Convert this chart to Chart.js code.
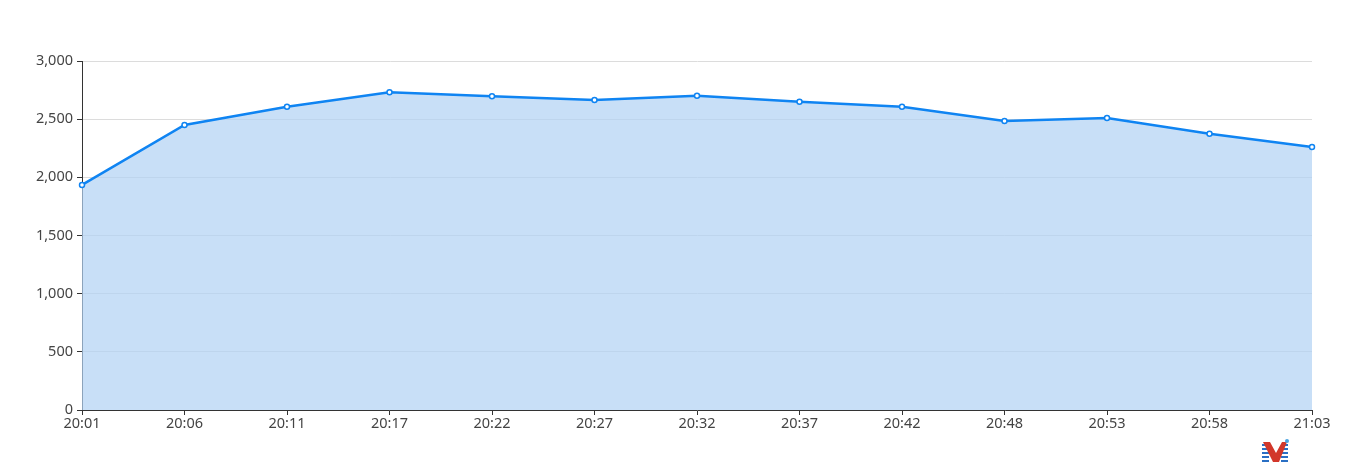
<!DOCTYPE html>
<html>
<head>
<meta charset="utf-8">
<script src="https://cdn.jsdelivr.net/npm/chart.js@4"></script>
<style>
  html, body { margin: 0; padding: 0; background: #fff; }
  #wrap { width: 1353px; height: 467px; position: relative; }
</style>
</head>
<body>
<div id="wrap"><canvas id="chart"></canvas></div>
<script>
const times = ['20:01', '20:06', '20:11', '20:17', '20:22', '20:27', '20:32',
  '20:37', '20:42', '20:48', '20:53', '20:58', '21:03'];
const values = [1935, 2450, 2607, 2731, 2697, 2665, 2702, 2650, 2607, 2484, 2510, 2375, 2261];
const yTicks = [0, 500, 1000, 1500, 2000, 2500, 3000];

// small watermark logo in the bottom right corner
const logoPlugin = {
  id: 'logo',
  afterDraw(chart) {
    const ctx = chart.ctx;
    const x = 1262, y = 440;
    ctx.save();
    ctx.fillStyle = '#2a6fc4';
    for (let i = 0; i < 5; i++) {
      ctx.fillRect(x, y + 4 + i * 4, 7, 2);
      ctx.fillRect(x + 19, y + 4 + i * 4, 7, 2);
    }
    ctx.fillStyle = '#d2372a';
    ctx.beginPath();
    ctx.moveTo(x + 1, y + 2);
    ctx.lineTo(x + 8, y + 2);
    ctx.lineTo(x + 14, y + 13);
    ctx.lineTo(x + 20, y + 2);
    ctx.lineTo(x + 25, y + 2);
    ctx.lineTo(x + 17, y + 22);
    ctx.lineTo(x + 11, y + 22);
    ctx.closePath();
    ctx.fill();
    ctx.fillStyle = '#4aa3e0';
    ctx.beginPath();
    ctx.arc(x + 25, y + 1, 2, 0, Math.PI * 2);
    ctx.fill();
    ctx.restore();
  }
};

new Chart(document.getElementById('chart').getContext('2d'), {
  type: 'line',
  data: {
    labels: times,
    datasets: [
      {
        data: values,
        borderColor: '#0f84f2',
        borderWidth: 2.5,
        backgroundColor: 'rgba(178, 210, 244, 0.71)',
        fill: 'origin',
        tension: 0,
        pointRadius: 2.5,
        pointHoverRadius: 3,
        pointBorderWidth: 1.5,
        pointBackgroundColor: '#fff',
        pointBorderColor: '#0f84f2',
      },
    ],
  },
  options: {
    responsive: true,
    maintainAspectRatio: false,
    animation: false,
    layout: { padding: { top: 61, right: 41, left: 0, bottom: 0 } },
    plugins: {
      legend: { display: false },
      tooltip: { enabled: false },
    },
    scales: {
      x: {
        offset: false,
        afterFit: (scale) => { scale.height = 57; },
        grid: {
          drawOnChartArea: false,
          tickLength: 5,
          tickColor: '#333',
        },
        border: { color: '#333', width: 1 },
        ticks: {
          color: '#444',
          font: { family: 'Noto Sans', size: 14.5 },
          padding: 0,
          maxRotation: 0,
          autoSkip: false,
        },
      },
      y: {
        min: 0,
        max: 3000,
        afterFit: (scale) => { scale.width = 82; },
        afterBuildTicks: (scale) => { scale.ticks = yTicks.map(v => ({ value: v })); },
        grid: {
          color: '#dcdcdc',
          tickLength: 5,
          tickColor: '#333',
        },
        border: { color: '#333', width: 1 },
        ticks: {
          color: '#444',
          font: { family: 'Noto Sans', size: 14.5 },
          padding: 4,
        },
      },
    },
  },
  plugins: [logoPlugin],
});
</script>
</body>
</html>
